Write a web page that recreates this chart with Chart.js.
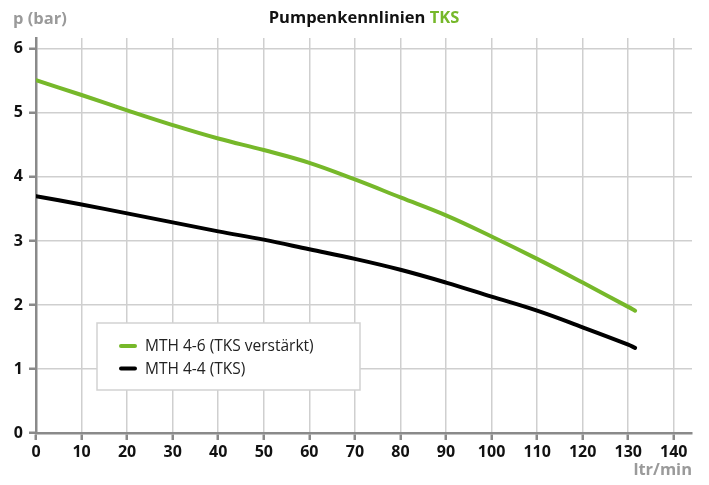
<!DOCTYPE html>
<html>
<head>
<meta charset="utf-8">
<script src="https://cdn.jsdelivr.net/npm/chart.js@4/dist/chart.umd.min.js"></script>
<style>
    html, body { margin: 0; padding: 0; background: #fff; }
    #wrap { width: 709px; height: 485px; }
</style>
</head>
<body>
<div id="wrap"><canvas id="pumpChart"></canvas></div>
<script>
const flow = [0, 10, 20, 30, 40, 50, 60, 70, 80, 90, 100, 110, 120, 130, 131.5];
const mth46 = [5.51, 5.28, 5.04, 4.81, 4.60, 4.42, 4.22, 3.96, 3.68, 3.40, 3.07, 2.72, 2.35, 1.97, 1.91];
const mth44 = [3.70, 3.57, 3.43, 3.29, 3.15, 3.02, 2.87, 2.72, 2.55, 2.35, 2.13, 1.91, 1.65, 1.38, 1.33];
const seriesLabels = ['MTH 4-6 (TKS verstärkt)', 'MTH 4-4 (TKS)'];
const titleMain = 'Pumpenkennlinien';
const titleAccent = 'TKS';
const yUnit = 'p (bar)';
const xUnit = 'ltr/min';

const GREEN = '#76b82a';
const FONT = '"Open Sans", "DejaVu Sans", sans-serif';

function pts(ys) {
    return flow.map((x, i) => ({ x, y: ys[i] }));
}

// title, axis units and the legend box
const decor = {
    id: 'decor',
    afterDraw(chart) {
        const { ctx, chartArea: a } = chart;
        ctx.save();

        ctx.font = `bold 16.5px ${FONT}`;
        ctx.textBaseline = 'middle';
        const w1 = ctx.measureText(titleMain + ' ').width;
        const w2 = ctx.measureText(titleAccent).width;
        let tx = (a.left + a.right) / 2 - (w1 + w2) / 2;
        ctx.textAlign = 'left';
        ctx.fillStyle = '#111';
        ctx.fillText(titleMain + ' ', tx, 18);
        ctx.fillStyle = GREEN;
        ctx.fillText(titleAccent, tx + w1, 18);

        ctx.font = `bold 16.5px ${FONT}`;
        ctx.fillStyle = '#9a9a9a';
        ctx.fillText(yUnit, 13, 19);
        ctx.textAlign = 'right';
        ctx.fillText(xUnit, a.right, 470);

        // legend
        const bx = 97, by = 323, bw = 263, bh = 67;
        ctx.fillStyle = '#fff';
        ctx.fillRect(bx, by, bw, bh);
        ctx.strokeStyle = '#d2d2d2';
        ctx.lineWidth = 1.5;
        ctx.strokeRect(bx, by, bw, bh);
        ctx.font = `15.5px ${FONT}`;
        ctx.textAlign = 'left';
        chart.data.datasets.forEach((ds, i) => {
            const ly = 346 + i * 22.5;
            ctx.strokeStyle = ds.borderColor;
            ctx.lineWidth = 4;
            ctx.lineCap = 'round';
            ctx.beginPath();
            ctx.moveTo(121, ly);
            ctx.lineTo(135, ly);
            ctx.stroke();
            ctx.fillStyle = '#222';
            ctx.fillText(ds.label, 145, ly + 1);
        });
        ctx.restore();
    }
};

const tickFont = { family: FONT, size: 16, weight: 'bold' };

new Chart(document.getElementById('pumpChart'), {
    type: 'line',
    data: {
        datasets: [
            {
                label: seriesLabels[0],
                data: pts(mth46),
                borderColor: GREEN,
                borderWidth: 4,
                borderCapStyle: 'round',
                pointRadius: 0,
                tension: 0.4,
            },
            {
                label: seriesLabels[1],
                data: pts(mth44),
                borderColor: '#000',
                borderWidth: 4,
                borderCapStyle: 'round',
                pointRadius: 0,
                tension: 0.4,
            },
        ],
    },
    options: {
        responsive: true,
        maintainAspectRatio: false,
        animation: false,
        layout: { padding: { top: 38, right: 17, bottom: 0, left: 0 } },
        plugins: { legend: { display: false }, title: { display: false }, tooltip: { enabled: false } },
        scales: {
            x: {
                type: 'linear',
                min: 0,
                max: 144,
                afterFit(s) { s.height = 52; },
                ticks: { stepSize: 10, includeBounds: false, color: '#111', font: tickFont, padding: 3, maxRotation: 0 },
                grid: { color: '#cfcfcf', lineWidth: 1.5, tickColor: '#8a8a8a', tickWidth: 2.5, tickLength: 7 },
                border: { color: '#8a8a8a', width: 2.5 },
            },
            y: {
                min: 0,
                max: 6.17,
                afterFit(s) { s.width = 36; },
                ticks: { stepSize: 1, includeBounds: false, color: '#111', font: tickFont, padding: 6 },
                grid: { color: '#cfcfcf', lineWidth: 1.5, tickColor: '#8a8a8a', tickWidth: 2.5, tickLength: 7 },
                border: { color: '#8a8a8a', width: 2.5 },
            },
        },
    },
    plugins: [decor],
});
</script>
</body>
</html>
